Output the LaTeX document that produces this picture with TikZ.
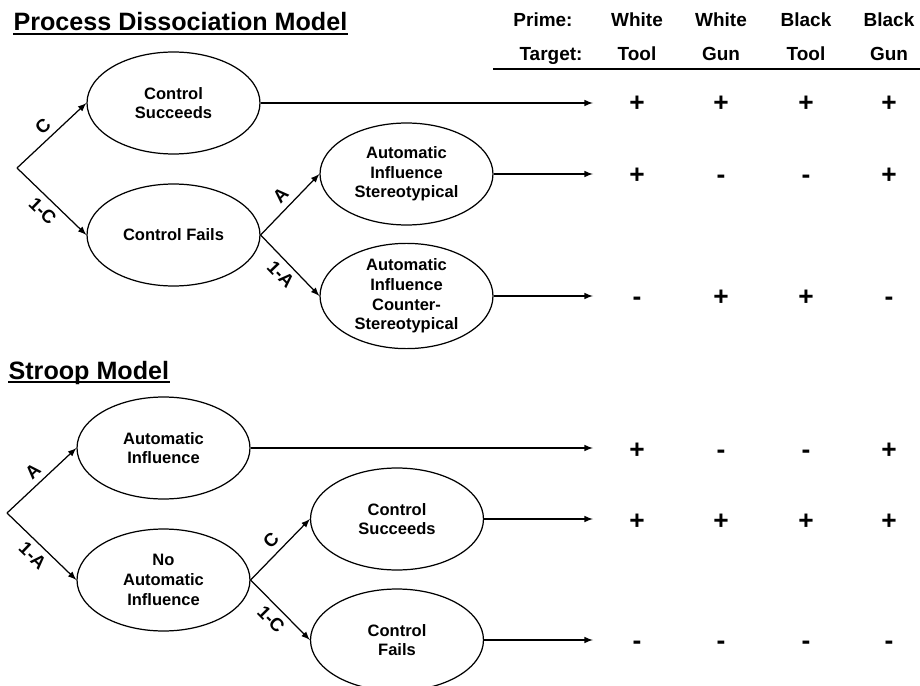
\documentclass[tikz,border=0pt]{standalone}
\usepackage{fontspec}
\setmainfont{Liberation Sans}
\usetikzlibrary{shapes.geometric,calc}

\begin{document}
\begin{tikzpicture} [x = 0.02cm, y = -0.02cm, line width = 0.7pt,
	font = \bfseries,
	state/.style = {ellipse, draw, minimum width = 3.46cm,
		minimum height = 2.04cm, inner sep = 0pt, align = center,
		font = \fontsize{9.4}{11.2}\selectfont\bfseries},
	head/.style = {anchor = base, inner sep = 0pt,
		font = \fontsize{10.8}{13}\selectfont\bfseries},
	sign/.style = {anchor = base, inner sep = 0pt,
		font = \fontsize{15}{18}\selectfont\bfseries},
	prob/.style = {midway, sloped,
		font = \fontsize{10.5}{12}\selectfont\bfseries},
	title/.style = {anchor = base west, inner sep = 0pt,
		font = \fontsize{14.3}{17}\selectfont\bfseries}]
\useasboundingbox (0,0) rectangle (920,686);

% titles:
\node [title] (pdm) at (13,31) {Process Dissociation Model};
\draw [line width = 1.1pt] ($(pdm.base west)+(0,3)$) -- ($(pdm.base east)+(0,3)$);
\node [title] (stm) at (8,379) {Stroop Model};
\draw [line width = 1.1pt] ($(stm.base west)+(0,3)$) -- ($(stm.base east)+(0,3)$);

% table head:
\node [head] (prime) at (543,27) {Prime:};
\node [head] (target) at (551,61) {Target:};
\foreach \x/\p/\t [count = \i] in {637/White/Tool, 721/White/Gun,
	806/Black/Tool, 889/Black/Gun}
{
	\node [head] (p\i) at (\x,27) {\p};
	\node [head] (t\i) at (\x,61) {\t};
}
\coordinate (rule) at (493,69);
\draw (rule) -- (rule -| 920,0);

% process dissociation tree:
\coordinate (pd) at (17,168);
\node [state] (cs) at (173.5,103) {Control\\Succeeds};
\node [state] (cf) at (173.5,235) {Control Fails};
\node [state] (as) at (406.5,174) {Automatic\\Influence\\Stereotypical};
\node [state] (ac) at (406.5,296) {Automatic\\Influence\\Counter-\\Stereotypical};

\draw [-latex] (pd) -- (cs.west) node [prob, above] {C};
\draw [-latex] (pd) -- (cf.west) node [prob, below] {1-C};
\draw [-latex] (cf.east) -- (as.west) node [prob, above] {A};
\draw [-latex] (cf.east) -- (ac.west) node [prob, below] {1-A};

% stroop tree:
\coordinate (st) at (7,513);
\node [state] (ai) at (163.5,448) {Automatic\\Influence};
\node [state] (na) at (163.5,580) {No\\Automatic\\Influence};
\node [state] (cs2) at (397,519) {Control\\Succeeds};
\node [state] (cf2) at (397,640) {Control\\Fails};

\draw [-latex] (st) -- (ai.west) node [prob, above] {A};
\draw [-latex] (st) -- (na.west) node [prob, below] {1-A};
\draw [-latex] (na.east) -- (cs2.west) node [prob, above] {C};
\draw [-latex] (na.east) -- (cf2.west) node [prob, below] {1-C};

% outcome arrows:
\coordinate (end) at (593,0);
\foreach \n in {cs, as, ac, ai, cs2, cf2}
	\draw [-latex] (\n.east) -- (\n.east -| end);

% outcome signs:
\foreach \y/\sa/\sb/\sc/\sd [count = \r] in {112/+/+/+/+, 183/+/-/-/+,
	305/-/+/+/-, 458/+/-/-/+, 529/+/+/+/+, 649/-/-/-/-}
{
	\node [sign] (s\r a) at (637,\y) {\sa};
	\node [sign] (s\r b) at (721,\y) {\sb};
	\node [sign] (s\r c) at (806,\y) {\sc};
	\node [sign] (s\r d) at (889,\y) {\sd};
}
\end{tikzpicture}
\end{document}
